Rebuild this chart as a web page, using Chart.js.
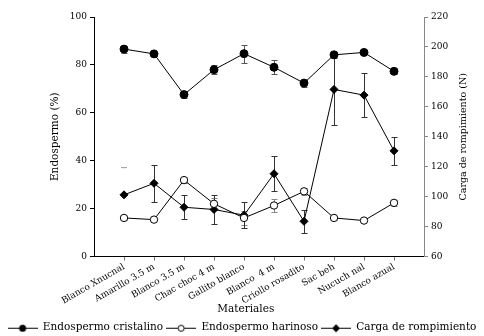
<!DOCTYPE html>
<html><head><meta charset="utf-8">
<script src="https://cdn.jsdelivr.net/npm/chart.js@4/dist/chart.umd.min.js"></script>
<style>html,body{margin:0;padding:0;background:#fff}#wrap{width:484px;height:336px;position:relative}</style>
</head><body><div id="wrap"><canvas id="c" width="484" height="336"></canvas></div>
<script>
const materiales = ['Blanco Xnucnal','Amarillo 3.5 m','Blanco 3.5 m','Chac choc 4 m','Gallito blanco','Blanco  4 m','Criollo rosadito','Sac beh','Nucuch nal','Blanco azual'];
const cristalino    = [86.6, 84.6, 67.6, 78.0, 84.7, 79.0, 72.4, 84.2, 85.2, 77.3];
const cristalinoErr = [1.5, 0.8, 1.5, 2.0, 3.7, 3.0, 1.5, 1.3, 0.4, 1.2];
const harinoso      = [16.1, 15.4, 31.9, 22.0, 16.1, 21.3, 27.2, 16.1, 15.0, 22.4];
const harinosoErr   = [1.0, 0.3, 1.2, 2.5, 3.0, 2.8, 1.5, 0.8, 0.3, 1.2];
const carga         = [101.2, 108.9, 92.9, 91.4, 87.6, 115.3, 83.5, 171.6, 167.8, 130.6];
const cargaErr      = [0, 12.3, 7.9, 9.5, 8.5, 11.8, 7.5, 23.5, 14.8, 9.5];
const marcaSuelta   = [{x:1, y:37.1}];
const ticksIzq = [0,20,40,60,80,100];
const ticksDer = [60,80,100,120,140,160,180,200,220];
const tituloDer = 'Carga de rompimiento (N)';
const tituloX = 'Materiales';

const FONT = 'DejaVu Serif';
const toPts = arr => arr.map((v,i)=>({x:i+1, y:v}));

function icon(kind){
  const c=document.createElement('canvas'); c.width=30; c.height=10;
  const g=c.getContext('2d');
  g.strokeStyle='#000'; g.lineWidth=1;
  g.beginPath(); g.moveTo(0,5.5); g.lineTo(30,5.5); g.stroke();
  g.beginPath();
  if(kind==='circle'){ g.arc(15,5.5,3.5,0,Math.PI*2); g.fillStyle='#000'; g.fill(); }
  else if(kind==='open'){ g.arc(15,5.5,3,0,Math.PI*2); g.fillStyle='#fff'; g.fill(); g.stroke(); }
  else { g.moveTo(15,1.5); g.lineTo(19,5.5); g.lineTo(15,9.5); g.lineTo(11,5.5); g.closePath(); g.fillStyle='#000'; g.fill(); }
  return c;
}

const errorBars = {
  id:'errorBars',
  beforeDatasetsDraw(chart){
    const ctx=chart.ctx;
    chart.data.datasets.forEach((ds,di)=>{
      if(!ds.errors) return;
      const meta=chart.getDatasetMeta(di);
      const ys=chart.scales[ds.yAxisID];
      ctx.save(); ctx.strokeStyle=ds.errorColor; ctx.lineWidth=1;
      ds.data.forEach((p,i)=>{
        const e=ds.errors[i]; if(!e) return;
        const x=Math.round(meta.data[i].x)+0.5;
        const y1=Math.round(ys.getPixelForValue(p.y+e))+0.5, y2=Math.round(ys.getPixelForValue(p.y-e))+0.5;
        ctx.beginPath();
        ctx.moveTo(x,y1); ctx.lineTo(x,y2);
        ctx.moveTo(x-3,y1); ctx.lineTo(x+3,y1);
        ctx.moveTo(x-3,y2); ctx.lineTo(x+3,y2);
        ctx.stroke();
      });
      ctx.restore();
    });
  }
};

const titles = {
  id:'titles',
  afterDraw(chart){
    const s=chart.scales.y2, ctx=chart.ctx, ca=chart.chartArea;
    ctx.save();
    ctx.fillStyle='#000'; ctx.textAlign='center'; ctx.textBaseline='middle';
    ctx.font='10.5px "'+FONT+'"';
    ctx.fillText(tituloX, ca.left + (ca.right-ca.left)*0.46, chart.scales.x.bottom-10);
    ctx.translate(s.right-20, (ca.top+ca.bottom)/2);
    ctx.rotate(-Math.PI/2);
    ctx.font='9.5px "'+FONT+'"';
    ctx.fillText(tituloDer,0,0);
    ctx.restore();
  }
};

new Chart(document.getElementById('c'), {
  type:'line',
  data:{ datasets:[
    {label:'Endospermo cristalino', data:toPts(cristalino), errors:cristalinoErr, errorColor:'#555', yAxisID:'y', icon:'circle',
     borderColor:'#000', borderWidth:1, pointStyle:'circle', pointRadius:4, pointBackgroundColor:'#000', pointBorderColor:'#000'},
    {label:'Endospermo harinoso', data:toPts(harinoso), errors:harinosoErr, errorColor:'#888', yAxisID:'y', icon:'open',
     borderColor:'#000', borderWidth:1, pointStyle:'circle', pointRadius:3.7, pointBackgroundColor:'#fff', pointBorderColor:'#000'},
    {label:'Carga de rompimiento', data:toPts(carga), errors:cargaErr, errorColor:'#333', yAxisID:'y2', icon:'diamond',
     borderColor:'#000', borderWidth:1, pointStyle:'rectRot', pointRadius:4, pointBackgroundColor:'#000', pointBorderColor:'#000'},
    {label:'', data:marcaSuelta, yAxisID:'y', showLine:false, pointStyle:'line', pointRadius:3, borderColor:'#999', pointBorderColor:'#999', borderWidth:1}
  ]},
  options:{
    responsive:false, animation:false,
    layout:{padding:{left:0, right:0, top:17, bottom:-7}},
    plugins:{
      tooltip:{enabled:false},
      legend:{position:'bottom', labels:{
        usePointStyle:true, pointStyleWidth:30, padding:3, color:'#000', font:{family:FONT, size:10.5},
        generateLabels(chart){
          return chart.data.datasets.filter(d=>d.icon).map((d,i)=>({text:d.label, pointStyle:icon(d.icon), datasetIndex:i, hidden:false, lineWidth:0, fontColor:'#000'}));
        }
      }}
    },
    scales:{
      x:{type:'linear', min:0, max:11,
        afterBuildTicks(s){ s.ticks = materiales.map((m,i)=>({value:i+1})); },
        ticks:{autoSkip:false, minRotation:30, maxRotation:30, padding:1, color:'#000', font:{family:FONT, size:9},
          callback:(v)=>materiales[v-1] ?? ''},
        grid:{drawOnChartArea:false, drawTicks:true, tickLength:4, color:'#777'},
        border:{color:'#000'},
        title:{display:false},
        afterFit(s){ s.height=63; }
      },
      y:{position:'left', min:0, max:100,
        afterBuildTicks(s){ s.ticks = ticksIzq.map(v=>({value:v})); },
        ticks:{color:'#000', font:{family:FONT, size:9}, padding:3},
        grid:{drawOnChartArea:false, tickLength:4, color:'#000'},
        border:{color:'#000'},
        title:{display:true, text:'Endospermo (%)', color:'#000', font:{family:FONT, size:10.5}, padding:{top:48.5,bottom:0}},
        afterFit(s){ s.width=94; }
      },
      y2:{position:'right', min:60, max:220,
        afterBuildTicks(s){ s.ticks = ticksDer.map(v=>({value:v})); },
        ticks:{color:'#000', font:{family:FONT, size:9}, padding:3},
        grid:{drawOnChartArea:false, tickLength:4, color:'#888'},
        border:{color:'#888'},
        title:{display:false},
        afterFit(s){ s.width=60; }
      }
    }
  },
  plugins:[errorBars, titles]
});
</script></body></html>
